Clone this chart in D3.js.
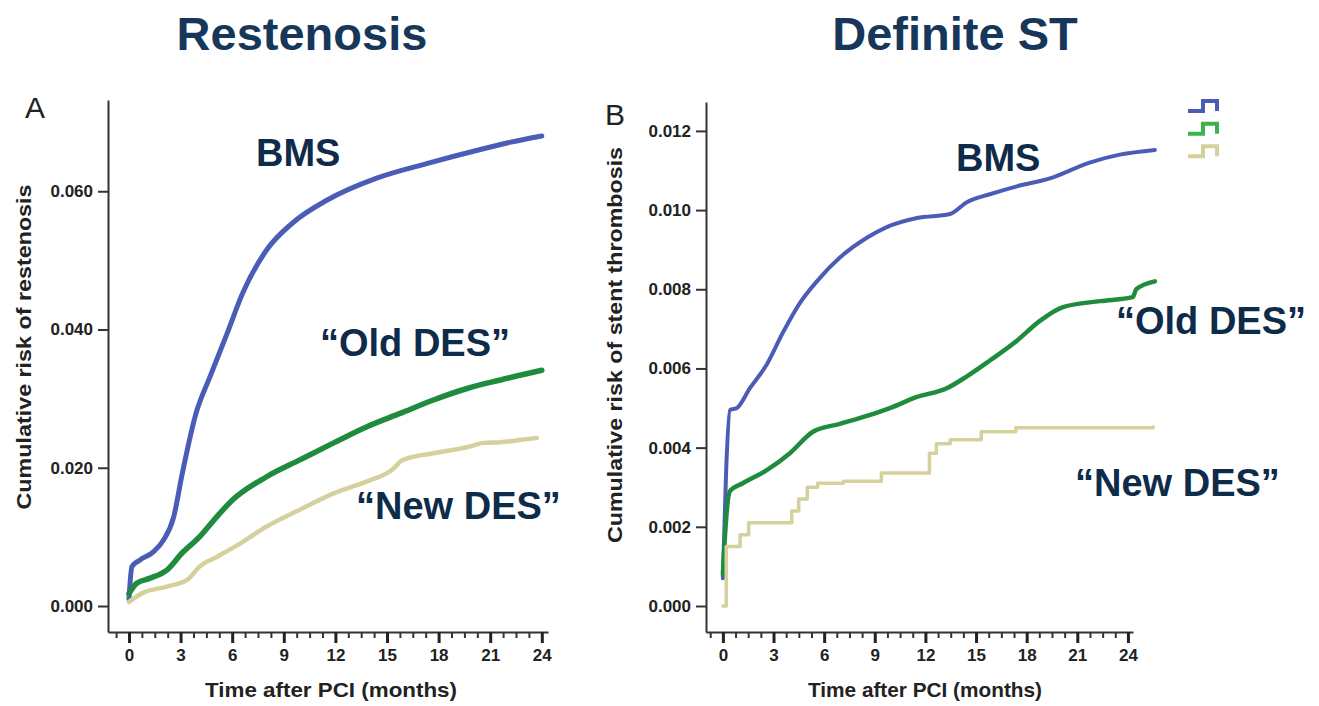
<!DOCTYPE html>
<html>
<head>
<meta charset="utf-8">
<script src="https://cdn.jsdelivr.net/npm/d3@7/dist/d3.min.js"></script>
<style>
	body { margin: 0; background: #fff; }
	text { font-family: "Liberation Sans", Arial, sans-serif; }
</style>
</head>
<body>
<div id="chart"></div>
<script>

///////////////////////////////////////////////////////////////////////////
///////////////////////////////// Data ////////////////////////////////////
///////////////////////////////////////////////////////////////////////////

//[months, cumulative risk]
var restenosisBMS = [[0,0.0010],[0.17,0.0057],[0.6,0.0066],[1.4,0.0078],[2.0,0.0095],[2.6,0.0129],[3.1,0.0192],
	[3.9,0.0279],[4.7,0.0331],[5.7,0.0394],[6.6,0.0452],[8.0,0.0515],[9.5,0.0554],[11.5,0.0587],[14.4,0.0619],
	[17.3,0.0640],[20.2,0.0659],[22.2,0.0671],[24,0.0680]];
var restenosisOldDES = [[0,0.0018],[0.45,0.0033],[1.2,0.0040],[2.2,0.0052],[3.1,0.0077],[4.1,0.0100],[5.1,0.0129],
	[6.0,0.0153],[8.0,0.0187],[9.9,0.0211],[11.9,0.0236],[13.8,0.0259],[15.8,0.0279],[17.7,0.0298],[19.7,0.0315],
	[21.6,0.0327],[24,0.0341]];
var restenosisNewDES = [[0,0.0006],[0.8,0.0019],[2.2,0.0028],[3.4,0.0038],[4.1,0.0057],[5.1,0.0071],[6.5,0.0091],
	[8.0,0.0115],[9.9,0.0139],[11.9,0.0163],[13.8,0.0180],[15.3,0.0197],[15.9,0.0211],[17.7,0.0221],[19.7,0.0230],
	[20.6,0.0236],[21.6,0.0237],[22.7,0.0240],[23.7,0.0243]];

var stBMS = [[0,0.0007],[0.2,0.0035],[0.42,0.00495],[0.83,0.0050],[1.6,0.0055],[2.6,0.0061],[3.55,0.0069],
	[4.56,0.00765],[5.57,0.0082],[6.93,0.0088],[8.53,0.0093],[9.71,0.00957],[11.5,0.0098],[13.45,0.0099],
	[14.46,0.0102],[15.82,0.0104],[17.42,0.0106],[19.38,0.0108],[21.73,0.0112],[23.52,0.0114],[25.6,0.01152]];
var stOldDES = [[0,0.0008],[0.1,0.0016],[0.42,0.0029],[1.18,0.0031],[2.6,0.00343],[3.97,0.00386],[5.34,0.0044],
	[6.93,0.0046],[8.53,0.0048],[9.9,0.0050],[11.5,0.00528],[13.27,0.0055],[14.46,0.0058],[15.82,0.0062],
	[17.42,0.0067],[18.78,0.0072],[20.15,0.00755],[22.35,0.0077],[24.29,0.0078],[24.49,0.0080],[25.6,0.0082]];
var stNewDES = [[0,0.0000],[0.2,0.0015],[0.71,0.0015],[1.02,0.0018],[1.53,0.0021],[3.57,0.0021],[4.08,0.0024],
	[4.49,0.0027],[5.0,0.0030],[5.61,0.0031],[7.14,0.00315],[9.39,0.00336],[11.73,0.00336],[12.24,0.00386],
	[12.65,0.0041],[13.47,0.0042],[15.31,0.0044],[17.35,0.0045],[25.5,0.00452]];

var monthTicks = [0,3,6,9,12,15,18,21,24];
var restenosisTicks = [0,0.02,0.04,0.06];
var stTicks = [0,0.002,0.004,0.006,0.008,0.010,0.012];
var seriesColors = ["#4b5cb6", "#1f8b3d", "#d5d19c"];
var legendColors = ["#4b5cb6", "#3bb24b", "#d5d19c"];

///////////////////////////////////////////////////////////////////////////
//////////////////// Set up and initiate svg container ////////////////////
///////////////////////////////////////////////////////////////////////////

var width = 1319,
	height = 706;

var svg = d3.select("#chart")
	.append("svg")
	.attr("width", width)
	.attr("height", height);

var navy = "#0e2b49";

///////////////////////////////////////////////////////////////////////////
////////////////////////////// Draw a panel ///////////////////////////////
///////////////////////////////////////////////////////////////////////////

function drawPanel(p) {

	var x = d3.scaleLinear().domain(p.xDomain).range(p.xRange);
	var y = d3.scaleLinear().domain(p.yDomain).range(p.yRange);

	var g = svg.append("g");

	//Minor x ticks every 0.75 month
	var minor = d3.range(-0.75, 24.01, 0.75).filter(function(d) { return Math.abs(d % 3) > 1e-6; });
	g.append("g")
		.attr("class", "x-minor")
		.attr("transform", "translate(0," + p.yRange[0] + ")")
		.call(d3.axisBottom(x).tickValues(minor).tickSize(6).tickSizeOuter(0).tickFormat(""))
		.call(function(a) { a.select(".domain").remove(); })
		.selectAll("line").style("stroke", "#333").style("stroke-width", 2);

	//Major x ticks
	var xAxis = g.append("g")
		.attr("transform", "translate(0," + p.yRange[0] + ")")
		.call(d3.axisBottom(x).tickValues(monthTicks).tickSize(11).tickSizeOuter(0).tickPadding(6));
	xAxis.select(".domain").style("stroke", "#333").style("stroke-width", 2);
	xAxis.selectAll(".tick line").style("stroke", "#222").style("stroke-width", 3);
	xAxis.selectAll(".tick text")
		.style("font-size", "17px").style("font-weight", "bold").style("fill", "#222");

	//y axis
	var yAxis = g.append("g")
		.attr("transform", "translate(" + p.xRange[0] + ",0)")
		.call(d3.axisLeft(y).tickValues(p.yTicks).tickSize(10).tickSizeOuter(0).tickPadding(5)
			.tickFormat(d3.format(".3f")));
	yAxis.select(".domain").style("stroke", "#333").style("stroke-width", 2);
	yAxis.selectAll(".tick line").style("stroke", "#333").style("stroke-width", 2);
	yAxis.selectAll(".tick text")
		.style("font-size", "17px").style("font-weight", "bold").style("fill", "#222");

	//Curves
	p.series.forEach(function(s, i) {
		var line = d3.line()
			.x(function(d) { return x(d[0]); })
			.y(function(d) { return y(d[1]); })
			.curve(s.step ? d3.curveStepAfter : d3.curveMonotoneX);
		g.append("path")
			.datum(s.data)
			.attr("d", line)
			.style("fill", "none")
			.style("stroke", seriesColors[i])
			.style("stroke-width", s.width)
			.style("stroke-linejoin", "round")
			.style("stroke-linecap", "round");
	});

	//Axis titles
	g.append("text")
		.attr("transform", "translate(" + p.yLabelX + "," + p.yLabelY + ") rotate(-90)")
		.attr("text-anchor", "middle")
		.attr("dy", "0.35em")
		.attr("textLength", p.yLabelLength)
		.attr("lengthAdjust", "spacingAndGlyphs")
		.style("font-size", "20px").style("font-weight", "bold").style("fill", "#222")
		.text(p.yLabel);

	g.append("text")
		.attr("x", p.xLabelX)
		.attr("y", 697)
		.attr("text-anchor", "middle")
		.attr("textLength", p.xLabelLength)
		.attr("lengthAdjust", "spacingAndGlyphs")
		.style("font-size", "21px").style("font-weight", "bold").style("fill", "#222")
		.text("Time after PCI (months)");

	//Panel letter
	g.append("text")
		.attr("x", p.letterX)
		.attr("y", p.letterY)
		.style("font-size", "30px").style("fill", "#222")
		.text(p.letter);

	//Title
	svg.append("text")
		.attr("x", p.titleX)
		.attr("y", 50)
		.attr("text-anchor", "middle")
		.style("font-size", "47px").style("font-weight", "bold").style("fill", "#17375a")
		.text(p.title);

	//Series labels
	g.selectAll(".series-label")
		.data(p.labels)
		.enter().append("text")
		.attr("class", "series-label")
		.attr("x", function(d) { return d.x; })
		.attr("y", function(d) { return d.y; })
		.style("font-size", "38px").style("font-weight", "bold").style("fill", navy)
		.text(function(d) { return d.text; });

}//drawPanel

drawPanel({
	xDomain: [-1.22, 24.36], xRange: [108, 548],
	yDomain: [-0.00376, 0.0732], yRange: [632, 100],
	yTicks: restenosisTicks,
	series: [
		{data: restenosisBMS, width: 5},
		{data: restenosisOldDES, width: 5.5},
		{data: restenosisNewDES, width: 4.5}
	],
	yLabel: "Cumulative risk of restenosis", yLabelX: 24, yLabelY: 347, yLabelLength: 325,
	xLabelX: 331, xLabelLength: 252,
	letter: "A", letterX: 25, letterY: 118,
	title: "Restenosis", titleX: 302,
	labels: [
		{text: "BMS", x: 256, y: 166},
		{text: "\u201COld DES\u201D", x: 320, y: 356},
		{text: "\u201CNew DES\u201D", x: 356, y: 519}
	]
});

drawPanel({
	xDomain: [-1.0, 24.3], xRange: [706, 1133],
	yDomain: [-0.000657, 0.01273], yRange: [632, 102],
	yTicks: stTicks,
	series: [
		{data: stBMS, width: 4},
		{data: stOldDES, width: 4.5},
		{data: stNewDES, width: 3.5, step: true}
	],
	yLabel: "Cumulative risk of stent thrombosis", yLabelX: 615, yLabelY: 345, yLabelLength: 396,
	xLabelX: 925, xLabelLength: 234,
	letter: "B", letterX: 605, letterY: 125,
	title: "Definite ST", titleX: 955,
	labels: [
		{text: "BMS", x: 956, y: 171},
		{text: "\u201COld DES\u201D", x: 1116, y: 334},
		{text: "\u201CNew DES\u201D", x: 1075, y: 496}
	]
});

///////////////////////////////////////////////////////////////////////////
////////////////////////// Legend step glyphs /////////////////////////////
///////////////////////////////////////////////////////////////////////////

var legendY = d3.scaleBand().domain(d3.range(legendColors.length)).range([99, 167]);

svg.selectAll(".legend-step")
	.data(legendColors)
	.enter().append("path")
	.attr("class", "legend-step")
	.attr("d", function(d, i) {
		var top = legendY(i) + 2, bottom = top + 10;
		return "M1188," + bottom + "H1203V" + top + "H1217V" + bottom;
	})
	.style("fill", "none")
	.style("stroke", function(d) { return d; })
	.style("stroke-width", 4);

</script>
</body>
</html>
